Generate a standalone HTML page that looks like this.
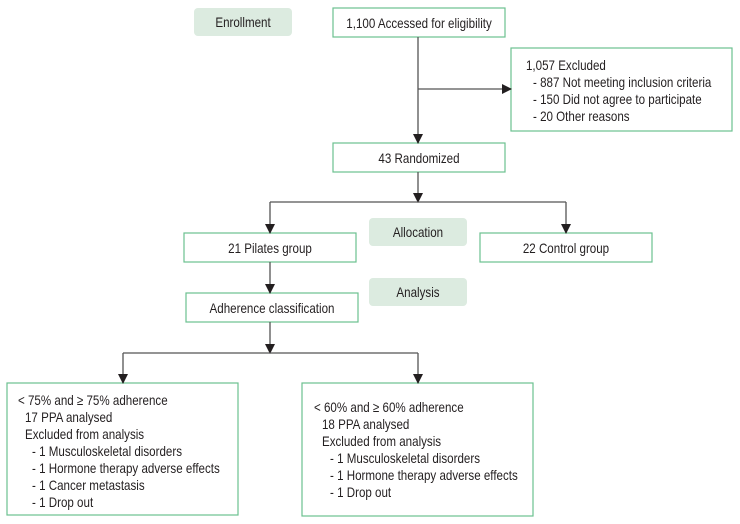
<!DOCTYPE html>
<html><head><meta charset="utf-8"><style>
html,body{margin:0;padding:0;background:#fff;}
svg{display:block;}
text{font-family:"Liberation Sans",sans-serif;font-size:13.8px;fill:#231f20;transform-box:fill-box;transform-origin:left center;transform:scaleX(0.84);}
.m text{transform-origin:center center;}
</style></head><body>
<svg width="740" height="524" viewBox="0 0 740 524" xmlns="http://www.w3.org/2000/svg">
<defs><marker id="a" markerWidth="10" markerHeight="10" refX="9" refY="5" orient="auto" markerUnits="userSpaceOnUse"><path d="M0,0 L10,5 L0,10 z" fill="#231f20"/></marker></defs>
<g fill="#dcebe0" stroke="none">
<rect x="194" y="8" width="98" height="28" rx="4"/>
<rect x="369" y="218" width="98" height="28" rx="4"/>
<rect x="369" y="278" width="98" height="28" rx="4"/>
</g>
<g fill="#fff" stroke="#6cc08f" stroke-width="1.2">
<rect x="333" y="8" width="172" height="29"/>
<rect x="511" y="48" width="221" height="83"/>
<rect x="333" y="143" width="172" height="29"/>
<rect x="184" y="233" width="172" height="29"/>
<rect x="480" y="233" width="172" height="29"/>
<rect x="186" y="293" width="172" height="29"/>
<rect x="7" y="383" width="231" height="132"/>
<rect x="302" y="383" width="231" height="133"/>
</g>
<g stroke="#555" stroke-width="1.3" fill="none">
<line x1="418" y1="37" x2="418" y2="143" marker-end="url(#a)"/>
<line x1="418" y1="89" x2="511" y2="89" marker-end="url(#a)"/>
<line x1="418" y1="172" x2="418" y2="202" marker-end="url(#a)"/>
<polyline points="270,202 566,202"/>
<line x1="270" y1="202" x2="270" y2="233" marker-end="url(#a)"/>
<line x1="566" y1="202" x2="566" y2="233" marker-end="url(#a)"/>
<line x1="270" y1="262" x2="270" y2="293" marker-end="url(#a)"/>
<line x1="270" y1="322" x2="270" y2="353" marker-end="url(#a)"/>
<polyline points="123,353 418,353"/>
<line x1="123" y1="353" x2="123" y2="383" marker-end="url(#a)"/>
<line x1="418" y1="353" x2="418" y2="383" marker-end="url(#a)"/>
</g>
<g class="m" text-anchor="middle">
<text x="243" y="27">Enrollment</text>
<text x="419" y="28">1,100 Accessed for eligibility</text>
<text x="419" y="163">43 Randomized</text>
<text x="418" y="237">Allocation</text>
<text x="418" y="297">Analysis</text>
<text x="270" y="253">21 Pilates group</text>
<text x="566" y="253">22 Control group</text>
<text x="272" y="313">Adherence classification</text>
</g>
<text x="526" y="70">1,057 Excluded</text>
<text x="533" y="87">- 887 Not meeting inclusion criteria</text>
<text x="533" y="104">- 150 Did not agree to participate</text>
<text x="533" y="121">-  20 Other reasons</text>
<g>
<text x="18" y="405">&lt; 75% and ≥ 75% adherence</text>
<text x="25" y="422">17 PPA analysed</text>
<text x="25" y="439">Excluded from analysis</text>
<text x="32" y="456">- 1 Musculoskeletal disorders</text>
<text x="32" y="473">- 1 Hormone therapy adverse effects</text>
<text x="32" y="490">- 1 Cancer metastasis</text>
<text x="32" y="507">- 1 Drop out</text>
<text x="314" y="412">&lt; 60% and ≥ 60% adherence</text>
<text x="322" y="429">18 PPA analysed</text>
<text x="322" y="446">Excluded from analysis</text>
<text x="330" y="463">- 1 Musculoskeletal disorders</text>
<text x="330" y="480">- 1 Hormone therapy adverse effects</text>
<text x="330" y="497">- 1 Drop out</text>
</g>
</svg>
</body></html>
